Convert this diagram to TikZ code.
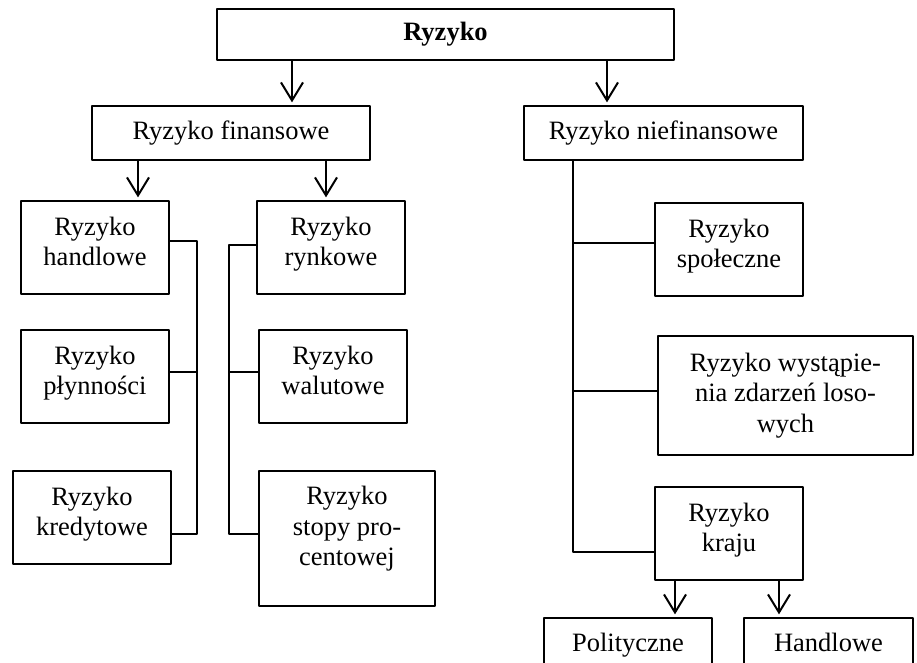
\documentclass[tikz,border=0pt]{standalone}
\usepackage{fontspec}
\setmainfont{Liberation Serif}
\usetikzlibrary{arrows.meta,calc}

\begin{document}
\begin{tikzpicture}[x=1pt,y=-1pt,line join=round,
  box/.style={draw,line width=1.3pt,align=center,inner sep=0pt},
  two/.style={box,minimum width=148,minimum height=93,text depth=12pt},
  conn/.style={line width=2pt},
  arr/.style={line width=2pt,-{Straight Barb[length=18pt,width=22pt]},shorten >=3pt},
  font=\fontsize{26.5}{30.5}\selectfont]
\useasboundingbox (0,0) rectangle (917,662);
\clip (0,0) rectangle (917,662);
\node[box,minimum width=457,minimum height=51] (top) at (445.5,34.5) {\textbf{Ryzyko}};
\node[box,minimum width=278,minimum height=54] (fin) at (231,133) {Ryzyko finansowe};
\node[box,minimum width=279,minimum height=54] (niefin) at (663.5,133) {Ryzyko niefinansowe};
% finansowe
\node[two] (handl) at (95,247.5) {Ryzyko\\handlowe};
\node[two] (plyn) at (95,376.5) {Ryzyko\\płynności};
\node[two,minimum width=158] (kred) at (92,517.5) {Ryzyko\\kredytowe};
\node[two] (rynk) at (331,247.5) {Ryzyko\\rynkowe};
\node[two] (walut) at (333,376.5) {Ryzyko\\walutowe};
\node[box,minimum width=176,minimum height=135,text depth=25pt] (stopy) at (347,538.5) {Ryzyko\\stopy pro-\\centowej};
% niefinansowe
\node[two] (spol) at (729,249.5) {Ryzyko\\społeczne};
\node[box,minimum width=255,minimum height=119] (wyst) at (785.5,395.5) {Ryzyko wystąpie-\\nia zdarzeń loso-\\wych};
\node[two] (kraj) at (729,533.5) {Ryzyko\\kraju};
\node[box,minimum width=168,minimum height=54,text depth=6pt] (polit) at (628,645) {Polityczne};
\node[box,minimum width=169,minimum height=54,text depth=6pt] (handl2) at (828.5,645) {Handlowe};
\foreach \x/\a/\b in {292/top/fin,607/top/niefin,138/fin/handl,326/fin/rynk,675/kraj/polit,779/kraj/handl2}{\draw[arr] (\a.south -| \x,0) -- (\b.north -| \x,0);}
\draw[conn] (handl.east |- 0,241) -- (197,241) -- (197,534) -- (kred.east |- 0,534);
\draw[conn] (plyn.east |- 0,372) -- (197,372);
\draw[conn] (rynk.west |- 0,245) -- (229,245) -- (229,534) -- (stopy.west |- 0,534);
\draw[conn] (walut.west |- 0,372) -- (229,372);
\draw[conn] (niefin.south -| 573,0) -- (573,552) -- (kraj.west |- 0,552);
\draw[conn] (spol.west |- 0,243) -- (573,243);
\draw[conn] (wyst.west |- 0,391) -- (573,391);
\end{tikzpicture}
\end{document}
